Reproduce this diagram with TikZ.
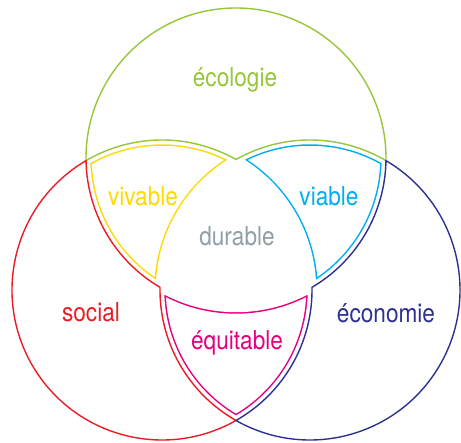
\documentclass[tikz,border=0pt]{standalone}
\usepackage{fontspec}
\setmainfont{TeX Gyre Heros}[FakeStretch=0.87]

\definecolor{ecogreen}{RGB}{151,198,59}
\definecolor{socred}{RGB}{237,28,36}
\definecolor{econavy}{RGB}{46,49,146}
\definecolor{vivyellow}{RGB}{255,217,0}
\definecolor{viacyan}{RGB}{0,174,239}
\definecolor{equimagenta}{RGB}{230,0,126}
\definecolor{durgrey}{RGB}{143,158,167}

\def\R{150pt}
% outer regions
\def\ecoregion{(E) ++(181.02:\R) arc[start angle=181.02, end angle=-1.02, radius=\R] arc[start angle=59.56, end angle=119.56, radius=\R] arc[start angle=60.44, end angle=120.44, radius=\R] -- cycle}
\def\socregion{(S) ++(120.44:\R) arc[start angle=120.44, end angle=299.56, radius=\R] arc[start angle=240.44, end angle=178.98, radius=\R] arc[start angle=239.56, end angle=181.02, radius=\R] -- cycle}
\def\econregion{(M) ++(59.56:\R) arc[start angle=59.56, end angle=-119.56, radius=\R] arc[start angle=-60.44, end angle=1.02, radius=\R] arc[start angle=-59.56, end angle=-1.02, radius=\R] -- cycle}
% lenses
\def\vivregion{(S) ++(120.44:\R) arc[start angle=120.44, end angle=60.44, radius=\R] arc[start angle=119.56, end angle=178.98, radius=\R] arc[start angle=239.56, end angle=181.02, radius=\R] -- cycle}
\def\viaregion{(M) ++(59.56:\R) arc[start angle=59.56, end angle=119.56, radius=\R] arc[start angle=60.44, end angle=1.02, radius=\R] arc[start angle=-59.56, end angle=-1.02, radius=\R] -- cycle}
\def\equiregion{(E) ++(239.56:\R) arc[start angle=239.56, end angle=300.44, radius=\R] arc[start angle=1.02, end angle=-60.44, radius=\R] arc[start angle=240.44, end angle=178.98, radius=\R] -- cycle}

\begin{document}
\begin{tikzpicture}[
    x=1pt, y=1pt,
    outline/.style={line width=1.4pt},
    bandcol/.style={line width=11.5pt},
    bandwhite/.style={white, line width=8.5pt, line join=round},
    txt/.style={anchor=base, inner sep=0pt, font=\fontsize{26}{30}\selectfont}
]
\useasboundingbox (0,0) rectangle (461,443);

% Circle centres
\coordinate (E) at (236,285);
\coordinate (S) at (162,153);
\coordinate (M) at (310,153);

% Lens bands
\begin{scope}
  \clip \vivregion;
  \draw[bandcol, vivyellow] \vivregion;
\end{scope}
\draw[bandwhite] \vivregion;
\begin{scope}
  \clip \viaregion;
  \draw[bandcol, viacyan] \viaregion;
\end{scope}
\draw[bandwhite] \viaregion;
\begin{scope}
  \clip \equiregion;
  \draw[bandcol, equimagenta] \equiregion;
\end{scope}
\draw[bandwhite] \equiregion;

% Outer regions
\draw[outline, ecogreen] \ecoregion;
\draw[outline, socred] \socregion;
\draw[outline, econavy] \econregion;

% Labels
\node[txt, ecogreen] (ecologie) at (235,356) {écologie};
\node[txt, vivyellow] (vivable) at (143,237) {vivable};
\node[txt, viacyan] (viable) at (329,237) {viable};
\node[txt, durgrey] (durable) at (237,197) {durable};
\node[txt, socred] (social) at (91,121) {social};
\node[txt, econavy] (economie) at (386,120) {économie};
\node[txt, equimagenta] (equitable) at (237,93) {équitable};

\end{tikzpicture}
\end{document}
